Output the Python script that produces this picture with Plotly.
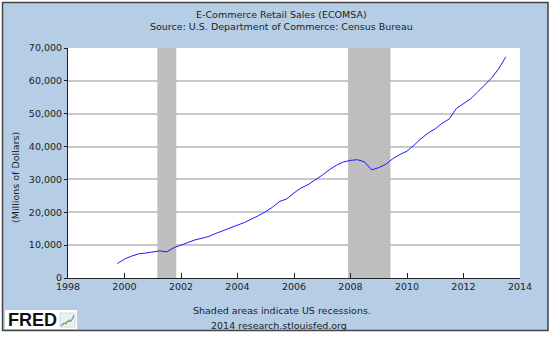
import plotly.graph_objects as go

# Quarterly e-commerce retail sales, seasonally adjusted (millions of dollars)
quarters = [
    "1999-10-01",
    "2000-01-01", "2000-04-01", "2000-07-01", "2000-10-01",
    "2001-01-01", "2001-04-01", "2001-07-01", "2001-10-01",
    "2002-01-01", "2002-04-01", "2002-07-01", "2002-10-01",
    "2003-01-01", "2003-04-01", "2003-07-01", "2003-10-01",
    "2004-01-01", "2004-04-01", "2004-07-01", "2004-10-01",
    "2005-01-01", "2005-04-01", "2005-07-01", "2005-10-01",
    "2006-01-01", "2006-04-01", "2006-07-01", "2006-10-01",
    "2007-01-01", "2007-04-01", "2007-07-01", "2007-10-01",
    "2008-01-01", "2008-04-01", "2008-07-01", "2008-10-01",
    "2009-01-01", "2009-04-01", "2009-07-01", "2009-10-01",
    "2010-01-01", "2010-04-01", "2010-07-01", "2010-10-01",
    "2011-01-01", "2011-04-01", "2011-07-01", "2011-10-01",
    "2012-01-01", "2012-04-01", "2012-07-01", "2012-10-01",
    "2013-01-01", "2013-04-01", "2013-07-01",
]
sales = [
    4400,
    5750, 6650, 7350, 7600,
    7900, 8250, 7950, 9250,
    10000, 10900, 11600, 12100,
    12700, 13600, 14500, 15300,
    16100, 16900, 17900, 19000,
    20200, 21600, 23300, 24100,
    25900, 27400, 28400, 29800,
    31300, 32900, 34300, 35300,
    35800, 36000, 35350, 32900,
    33600, 34600, 36300, 37600,
    38600, 40400, 42400, 44100,
    45400, 47100, 48400, 51600,
    53100, 54500, 56600, 58800,
    60900, 63700, 67300,
]

# NBER recession periods
recession_start = ["2001-03-01", "2007-12-01"]
recession_end = ["2001-11-01", "2009-06-01"]

y_ticks = [0, 10000, 20000, 30000, 40000, 50000, 60000, 70000]
y_max = 70000

FONT = "DejaVu Sans"
TXT = "#1e1e1e"
BLUE_BG = "#b5cde5"

fig = go.Figure()

# recession bands as filled traces so they sit above the gridlines
for s, e in zip(recession_start, recession_end):
    fig.add_trace(go.Scatter(
        x=[s, s, e, e, s], y=[0, y_max, y_max, 0, 0],
        mode="lines", fill="toself", fillcolor="#bebebe",
        line=dict(width=0, color="#bebebe"), hoverinfo="skip", showlegend=False,
    ))

fig.add_trace(go.Scatter(
    x=quarters, y=sales, mode="lines",
    line=dict(color="#1a1aff", width=1),
    hoverinfo="x+y", showlegend=False,
))

# white margin outside the blue frame, then the frame outline
W, H = 550, 337
L, R, T, B = 68, 30, 48, 59
pw, ph = W - L - R, H - T - B


def px(x):
    return (x - L) / pw


def py(y):
    return (H - B - y) / ph


shapes = []
for x0, y0, x1, y1 in [(0, 0, W, 2), (0, 0, 2, H), (548.5, 0, W, H), (0, 331, W, H)]:
    shapes.append(dict(type="rect", xref="paper", yref="paper",
                       x0=px(x0), x1=px(x1), y0=py(y1), y1=py(y0),
                       fillcolor="white", line=dict(width=0), layer="above"))
shapes.append(dict(type="rect", xref="paper", yref="paper",
                   x0=px(2.5), x1=px(548), y0=py(330.5), y1=py(2.5),
                   fillcolor="rgba(0,0,0,0)", line=dict(color="#454545", width=1.5),
                   layer="above"))

# FRED logo box
shapes.append(dict(type="rect", xref="paper", yref="paper",
                   x0=px(5), x1=px(77), y0=py(329), y1=py(310),
                   fillcolor="white", line=dict(width=0), layer="above"))
shapes.append(dict(type="rect", xref="paper", yref="paper",
                   x0=px(60), x1=px(75), y0=py(327), y1=py(313),
                   fillcolor="#eef1f4", line=dict(color="#c9d0d8", width=0.8), layer="above"))
icon = [(61, 326), (64, 323), (66, 324), (69, 320), (71, 321), (74, 315)]
icon_path = "M " + " L ".join(f"{px(a):.5f},{py(b):.5f}" for a, b in icon)
shapes.append(dict(type="path", xref="paper", yref="paper", path=icon_path,
                   line=dict(color="#7ab06a", width=1.2), layer="above"))
icon2 = [(61, 325), (64, 324), (67, 321), (70, 322), (74, 317)]
icon_path2 = "M " + " L ".join(f"{px(a):.5f},{py(b):.5f}" for a, b in icon2)
shapes.append(dict(type="path", xref="paper", yref="paper", path=icon_path2,
                   line=dict(color="#7a9ad0", width=1), layer="above"))

annotations = [
    dict(text="E-Commerce Retail Sales (ECOMSA)", x=px(281), y=py(15)),
    dict(text="Source: U.S. Department of Commerce: Census Bureau", x=px(281), y=py(26.5)),
    dict(text="Shaded areas indicate US recessions.", x=px(282), y=py(310)),
    dict(text="2014 research.stlouisfed.org", x=px(279), y=py(325)),
]
for a in annotations:
    a.update(xref="paper", yref="paper", showarrow=False, xanchor="center",
             yanchor="middle", font=dict(family=FONT, size=9.5, color=TXT))
annotations.append(dict(
    text="(Millions of Dollars)", x=px(15.5), y=py(177.5), xref="paper", yref="paper",
    showarrow=False, textangle=-90, xanchor="center", yanchor="middle",
    font=dict(family=FONT, size=9.5, color=TXT)))
annotations.append(dict(
    text="<b>FRED</b>", x=px(6), y=py(320), xref="paper", yref="paper",
    showarrow=False, xanchor="left", yanchor="middle",
    font=dict(family="Liberation Sans", size=18, color="#111111")))

fig.update_layout(
    width=W, height=H,
    margin=dict(l=L, r=R, t=T, b=B, pad=0),
    paper_bgcolor=BLUE_BG,
    plot_bgcolor="white",
    shapes=shapes,
    annotations=annotations,
    showlegend=False,
    xaxis=dict(
        type="date", range=["1998-01-01", "2014-01-01"],
        tick0="1998-01-01", dtick="M24", tickformat="%Y",
        showgrid=False, zeroline=False,
        showline=True, linecolor="#222222", linewidth=1,
        ticks="inside", ticklen=5, tickcolor="#222222", tickwidth=1,
        tickfont=dict(family=FONT, size=9.5, color=TXT),
        fixedrange=True,
    ),
    yaxis=dict(
        range=[0, y_max], tickvals=y_ticks, tickformat=",d",
        showgrid=True, gridcolor="#c8c8c8", gridwidth=1.5,
        zeroline=False,
        showline=True, linecolor="#222222", linewidth=1,
        ticks="outside", ticklen=3, tickcolor="#222222", tickwidth=1,
        tickfont=dict(family=FONT, size=9.5, color=TXT),
        fixedrange=True,
    ),
)

fig.write_html("out.html", config={"displayModeBar": False})
